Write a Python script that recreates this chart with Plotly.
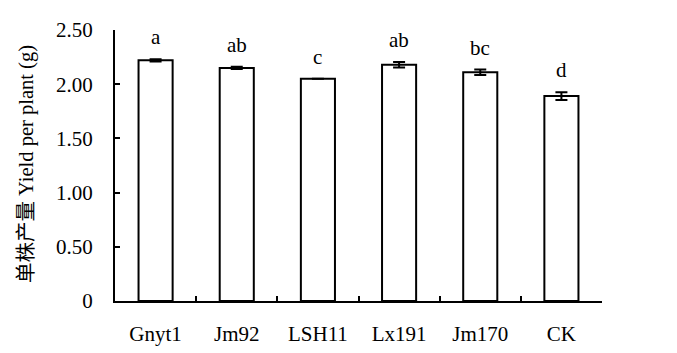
import plotly.graph_objects as go

categories = ["Gnyt1", "Jm92", "LSH11", "Lx191", "Jm170", "CK"]
values = [2.22, 2.15, 2.05, 2.18, 2.11, 1.89]
errors = [0.010, 0.010, 0.0, 0.025, 0.025, 0.035]
letters = ["a", "ab", "c", "ab", "bc", "d"]
ytick_vals = [0, 0.5, 1.0, 1.5, 2.0, 2.5]
ytick_text = ["0", "0.50", "1.00", "1.50", "2.00", "2.50"]
y_title = "单株产量 Yield per plant (g)"

FONT = "Liberation Serif"

fig = go.Figure()
fig.add_trace(go.Bar(
    x=categories, y=values, width=0.42,
    marker=dict(color="white", line=dict(color="black", width=2)),
    error_y=dict(type="data", array=errors, visible=True,
                 color="black", thickness=2, width=6),
    showlegend=False,
))

for c, v, e, t in zip(categories, values, errors, letters):
    fig.add_annotation(x=c, y=v + e, text=t, showarrow=False,
                       yanchor="bottom", yshift=8,
                       font=dict(family=FONT, size=21, color="black"))

# y-axis title as rotated annotation for precise placement
fig.add_annotation(xref="paper", yref="paper", x=-0.183, y=0.505,
                   text=y_title, textangle=-90, showarrow=False,
                   xanchor="center", yanchor="middle",
                   font=dict(family="Liberation Serif, Noto Sans CJK SC",
                             size=20.5, color="black"))

fig.update_layout(
    width=677, height=353,
    margin=dict(l=115, r=75, t=30, b=52),
    plot_bgcolor="white", paper_bgcolor="white",
    font=dict(family=FONT, size=21, color="black"),
)
fig.update_xaxes(
    range=[-0.5, 5.5], showline=True, linecolor="black", linewidth=2,
    ticks="inside", ticklen=5, tickwidth=2, tickcolor="black",
    tickson="boundaries", showgrid=False, zeroline=False,
    ticklabelstandoff=13, automargin=False,
    tickfont=dict(family=FONT, size=21, color="black"),
)
fig.update_yaxes(
    range=[0, 2.5], tickvals=ytick_vals, ticktext=ytick_text,
    showline=True, linecolor="black", linewidth=2,
    ticks="inside", ticklen=5, tickwidth=2, tickcolor="black",
    showgrid=False, zeroline=False, ticklabelstandoff=16, automargin=False,
    tickfont=dict(family=FONT, size=21, color="black"),
)

fig.write_html("out.html")
